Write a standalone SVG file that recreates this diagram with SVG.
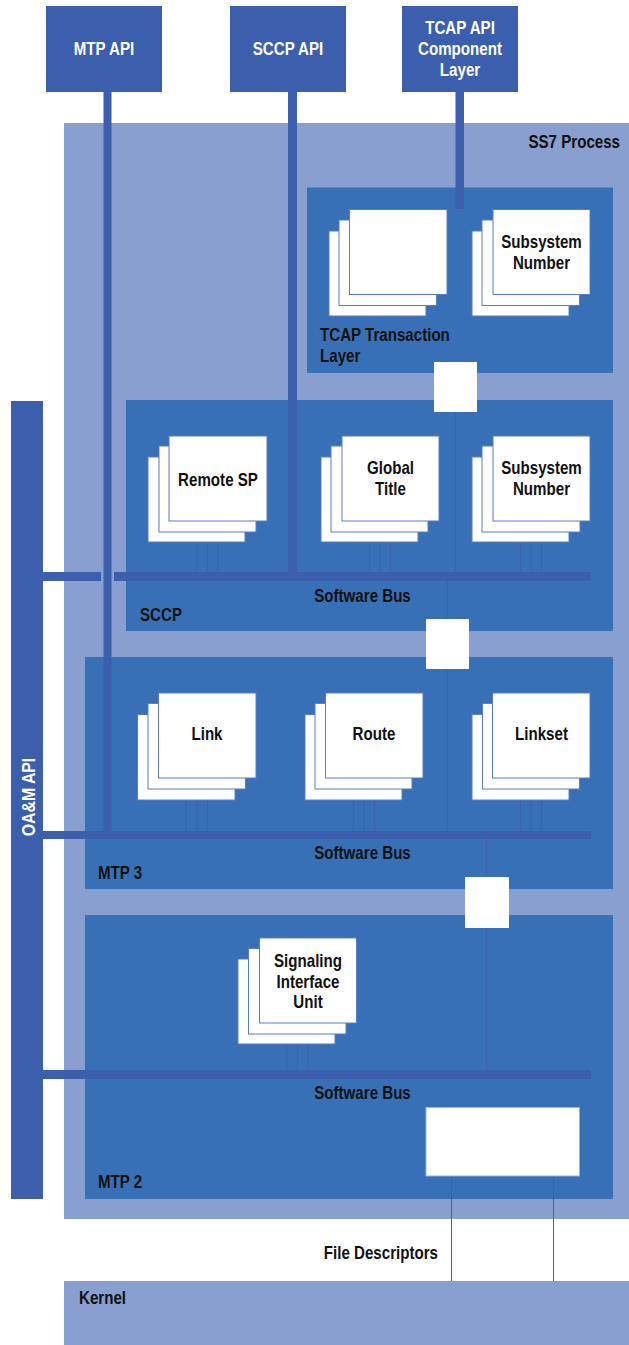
<svg xmlns="http://www.w3.org/2000/svg" width="629" height="1345" viewBox="0 0 629 1345">
<style>
.t{font-family:"Liberation Sans",Arial,sans-serif;font-weight:bold;font-size:18px;fill:#111}
.w{fill:#fff}
.m{text-anchor:middle}
.e{text-anchor:end}
.light{fill:#889fcf}
.mid{fill:#3770b6}
.dark{fill:#3b5fad}
.card{fill:#fff;stroke:#5b7dc2;stroke-width:1}
.wb{fill:#fff}
.thin{stroke:#3f62b0;stroke-width:1;fill:none}
</style>
<rect width="629" height="1345" fill="#fff"/>
<g id="ss7-process">
<rect class="light" x="64" y="123" width="565" height="1096"/>
<text class="t e" transform="translate(620,148) scale(0.84,1)">SS7 Process</text>
</g>
<g id="kernel">
<rect class="light" x="64" y="1281" width="565" height="64"/>
<text class="t" transform="translate(79,1304) scale(0.84,1)">Kernel</text>
</g>
<g id="tcap-transaction">
<rect class="mid" x="307" y="187.5" width="306" height="185.5"/>
<text class="t" transform="translate(320,341) scale(0.84,1)">TCAP Transaction</text>
<text class="t" transform="translate(320,362) scale(0.84,1)">Layer</text>
</g>
<g id="sccp">
<rect class="mid" x="126" y="400" width="487" height="231"/>
<text class="t" transform="translate(140,621) scale(0.84,1)">SCCP</text>
</g>
<g id="mtp3">
<rect class="mid" x="85" y="657" width="528" height="232"/>
<text class="t" transform="translate(98,879) scale(0.84,1)">MTP 3</text>
</g>
<g id="mtp2">
<rect class="mid" x="85" y="915" width="528" height="284"/>
<text class="t" transform="translate(98,1188) scale(0.84,1)">MTP 2</text>
</g>
<g id="mtp-api">
<rect class="dark" x="46" y="6" width="116" height="86"/>
<text class="t w m" transform="translate(104,55) scale(0.84,1)">MTP API</text>
</g>
<g id="sccp-api">
<rect class="dark" x="230" y="6" width="116" height="86"/>
<text class="t w m" transform="translate(288,55) scale(0.84,1)">SCCP API</text>
</g>
<g id="tcap-api">
<rect class="dark" x="402" y="6" width="116" height="86"/>
<text class="t w m" transform="translate(460,34) scale(0.84,1)">TCAP API</text>
<text class="t w m" transform="translate(460,55) scale(0.84,1)">Component</text>
<text class="t w m" transform="translate(460,76) scale(0.84,1)">Layer</text>
</g>
<g id="oam-api">
<rect class="dark" x="11" y="401" width="32" height="798"/>
<text class="t w m" transform="translate(34.5,797) rotate(-90) scale(0.88,1)">OA&amp;M API</text>
</g>
<g id="connectors">
<rect class="dark" x="103.5" y="92" width="8" height="739"/>
<rect class="dark" x="288" y="92" width="9" height="480"/>
<rect class="dark" x="455.5" y="92" width="8.5" height="117"/>
<rect class="dark" x="43" y="572" width="58" height="9"/>
<rect class="dark" x="114" y="572" width="477" height="9"/>
<rect class="dark" x="43" y="831" width="548" height="8"/>
<rect class="dark" x="43" y="1070" width="548" height="9"/>
<path class="thin" d="M197 542V572M207.5 532V572M218 521V572M369.5 542V572M380 532V572M390.5 521V572M520.5 542V572M531 532V572M541.5 521V572"/>
<path class="thin" d="M186 800V831M197 789V831M207.5 778V831M353.5 800V831M364 789V831M374.5 778V831M520.5 800V831M531 789V831M541.5 778V831"/>
<path class="thin" d="M287 1044V1070M297.5 1034V1070M308 1023V1070"/>
<path class="thin" d="M455.5 412V572M447.5 581V619M447.5 669V831M486.5 839V877M486.5 928V1070M451.5 1176V1281M553.5 1176V1281"/>
<rect class="wb" x="434" y="362" width="43" height="50"/>
<rect class="wb" x="426" y="619" width="43" height="50"/>
<rect class="wb" x="465" y="877" width="44" height="51"/>
</g>
<g id="bus-labels">
<text class="t m" transform="translate(362.5,602) scale(0.84,1)">Software Bus</text>
<text class="t m" transform="translate(362.5,859) scale(0.84,1)">Software Bus</text>
<text class="t m" transform="translate(362.5,1099) scale(0.84,1)">Software Bus</text>
</g>
<g id="tcap-stack">
<rect class="card" x="329" y="231" width="97" height="85"/>
<rect class="card" x="339" y="220" width="97.5" height="85.5"/>
<rect class="card" x="349.5" y="209.5" width="97.5" height="85"/>
</g>
<g id="tcap-ssn">
<rect class="card" x="472" y="231" width="97" height="85"/>
<rect class="card" x="482" y="220" width="97.5" height="85.5"/>
<rect class="card" x="493" y="209.5" width="97" height="85"/>
<text class="t m" transform="translate(541.5,248) scale(0.84,1)">Subsystem</text>
<text class="t m" transform="translate(541.5,269) scale(0.84,1)">Number</text>
</g>
<g id="remote-sp">
<rect class="card" x="148" y="457" width="97" height="85"/>
<rect class="card" x="159" y="446" width="97" height="86"/>
<rect class="card" x="169" y="436" width="98" height="85"/>
<text class="t m" transform="translate(218,486) scale(0.84,1)">Remote SP</text>
</g>
<g id="global-title">
<rect class="card" x="321" y="457" width="97" height="85"/>
<rect class="card" x="331" y="446" width="97" height="86"/>
<rect class="card" x="342" y="436" width="97" height="85"/>
<text class="t m" transform="translate(390.5,474) scale(0.84,1)">Global</text>
<text class="t m" transform="translate(390.5,495) scale(0.84,1)">Title</text>
</g>
<g id="sccp-ssn">
<rect class="card" x="472" y="457" width="97" height="85"/>
<rect class="card" x="482" y="446" width="98" height="86"/>
<rect class="card" x="493" y="436" width="97" height="85"/>
<text class="t m" transform="translate(541.5,474) scale(0.84,1)">Subsystem</text>
<text class="t m" transform="translate(541.5,495) scale(0.84,1)">Number</text>
</g>
<g id="link">
<rect class="card" x="137.5" y="714.5" width="97.5" height="85.5"/>
<rect class="card" x="148" y="703.5" width="97.5" height="85.5"/>
<rect class="card" x="158.5" y="693" width="97.5" height="85"/>
<text class="t m" transform="translate(207,740) scale(0.84,1)">Link</text>
</g>
<g id="route">
<rect class="card" x="305" y="714.5" width="97" height="85.5"/>
<rect class="card" x="315" y="703.5" width="97" height="85.5"/>
<rect class="card" x="325.5" y="693" width="97.5" height="85"/>
<text class="t m" transform="translate(374,740) scale(0.84,1)">Route</text>
</g>
<g id="linkset">
<rect class="card" x="472" y="714.5" width="97" height="85.5"/>
<rect class="card" x="482.5" y="703.5" width="97" height="85.5"/>
<rect class="card" x="492.5" y="693" width="97.5" height="85"/>
<text class="t m" transform="translate(541.5,740) scale(0.84,1)">Linkset</text>
</g>
<g id="siu">
<rect class="card" x="238" y="959" width="97" height="85"/>
<rect class="card" x="248.5" y="948.5" width="97.5" height="85.5"/>
<rect class="card" x="259.5" y="938" width="97" height="85"/>
<text class="t m" transform="translate(308,967) scale(0.84,1)">Signaling</text>
<text class="t m" transform="translate(308,987.5) scale(0.84,1)">Interface</text>
<text class="t m" transform="translate(308,1008) scale(0.84,1)">Unit</text>
</g>
<g id="fd-box">
<rect x="426" y="1107.5" width="153.5" height="68.5" fill="#fff" stroke="#9fb0d6" stroke-width="1"/>
</g>
<g id="file-descriptors">
<text class="t e" transform="translate(438,1259) scale(0.84,1)">File Descriptors</text>
</g>
</svg>
